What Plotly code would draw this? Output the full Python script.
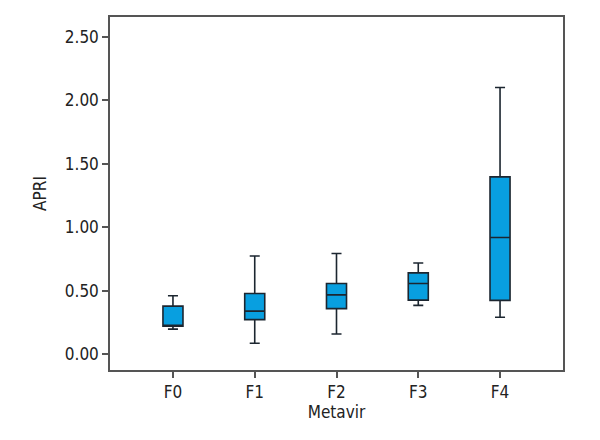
import plotly.graph_objects as go

# Metavir fibrosis stage vs APRI (summary values)
stages = ["F0", "F1", "F2", "F3", "F4"]
lower = [0.197, 0.086, 0.159, 0.384, 0.29]
q1 = [0.22, 0.272, 0.358, 0.425, 0.423]
median = [0.228, 0.339, 0.467, 0.556, 0.919]
q3 = [0.378, 0.478, 0.556, 0.64, 1.396]
upper = [0.46, 0.773, 0.793, 0.718, 2.10]

y_ticks = [0, 0.5, 1.0, 1.5, 2.0, 2.5]

font_name = "Liberation Sans Narrow, DejaVu Sans Condensed, sans-serif"

fig = go.Figure()

fig.add_trace(go.Box(
    x=stages,
    q1=q1,
    median=median,
    q3=q3,
    lowerfence=lower,
    upperfence=upper,
    width=0.245,
    whiskerwidth=0.5,
    fillcolor="#089fe0",
    line=dict(color="#1c2630", width=1.6),
    boxpoints=False,
    hoverinfo="skip",
    showlegend=False,
))

# page body adds ~8px offset, margins compensate for it
fig.update_layout(
    width=600,
    height=440,
    margin=dict(l=102, r=45, t=7, b=78),
    paper_bgcolor="white",
    plot_bgcolor="white",
    font=dict(family=font_name, size=17, color="#222222"),
)

fig.update_xaxes(
    range=[-0.77, 4.77],
    showline=True, linecolor="#555555", linewidth=1.5, mirror=True,
    ticks="outside", ticklen=6, tickcolor="#555555", tickwidth=1.5,
    showgrid=False, zeroline=False,
    title=dict(text="Metavir", standoff=4, font=dict(size=17)),
    tickfont=dict(size=17),
)

fig.update_yaxes(
    range=[-0.125, 2.655],
    tickvals=y_ticks,
    ticktext=["%.2f" % v for v in y_ticks],
    showline=True, linecolor="#555555", linewidth=1.5, mirror=True,
    ticks="outside", ticklen=6, tickcolor="#555555", tickwidth=1.5,
    showgrid=False, zeroline=False,
    title=dict(text="APRI", standoff=14, font=dict(size=17)),
    tickfont=dict(size=17),
)

fig.write_html("out.html")
